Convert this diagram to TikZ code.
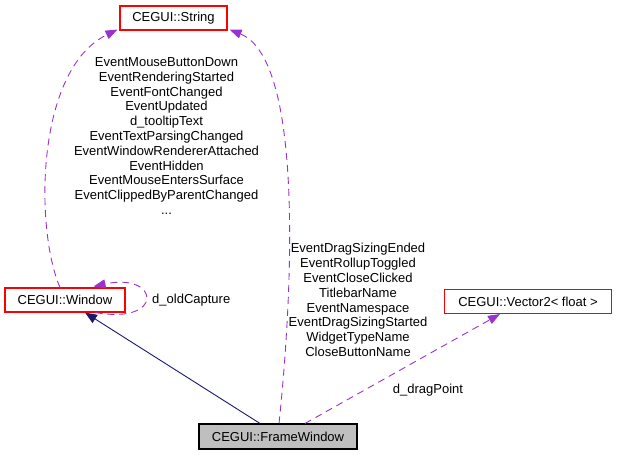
\documentclass[tikz,border=0pt]{standalone}
\usepackage{fontspec}
\setmainfont{Liberation Sans}
\usetikzlibrary{arrows.meta}
\definecolor{boxred}{HTML}{FF0000}
\definecolor{edgepurple}{HTML}{9A32CD}
\definecolor{edgenavy}{HTML}{191970}
\definecolor{boxgray}{HTML}{BFBFBF}
\begin{document}
\begin{tikzpicture}[x=1pt,y=1pt,
  every node/.style={font=\fontsize{13}{14.8}\selectfont, inner sep=0pt},
  classbox/.style={draw=boxred, line width=1.1pt, fill=white, minimum height=24pt},
  mainbox/.style={draw=black, line width=1.1pt, fill=boxgray, minimum height=25pt},
  usage/.style={draw=edgepurple, line width=0.9pt, dash pattern=on 7pt off 5pt,
     -{Triangle[length=12pt,width=9pt,fill=edgepurple]}},
  inherit/.style={draw=edgenavy, line width=0.9pt,
     -{Triangle[length=12pt,width=9.5pt,fill=edgenavy]}},
  edgelabel/.style={align=center}
]
\useasboundingbox (0,0) rectangle (617,-456);
\node[classbox, minimum width=107pt] (str) at (173.5,-18) {CEGUI::String};
\node[classbox, minimum width=120pt] (win) at (65,-300) {CEGUI::Window};
\node[classbox, minimum width=167pt] (vec) at (528,-301.5) {CEGUI::Vector2< float >};
\node[mainbox, minimum width=158pt] (fw) at (278,-436.5) {CEGUI::FrameWindow};

% inheritance
\draw[inherit] ([xshift=-18pt]fw.north) -- ([xshift=20pt]win.south);

% Window -> String
\draw[usage] ([xshift=-5pt]win.north) .. controls (35,-230) and (35,-70) .. ([xshift=-2pt,yshift=1pt]str.south west);
% FrameWindow -> String
\draw[usage] ([xshift=1pt]fw.north) .. controls (292,-300) and (305,-60) .. ([xshift=2pt,yshift=1pt]str.south east);
% self loop
\draw[usage] ([xshift=-30pt]win.south east) .. controls (165,-325) and (160,-272) .. ([xshift=-32pt,yshift=1pt]win.north east);
% FrameWindow -> Vector2
\draw[usage] ([xshift=27pt]fw.north) -- ([xshift=-28pt]vec.south);

\node[edgelabel] (lblws) at (166.5,-136) {EventMouseButtonDown\\EventRenderingStarted\\EventFontChanged\\EventUpdated\\d\_tooltipText\\EventTextParsingChanged\\EventWindowRendererAttached\\EventHidden\\EventMouseEntersSurface\\EventClippedByParentChanged\\...};
\node[edgelabel] (lblfs) at (358,-300) {EventDragSizingEnded\\EventRollupToggled\\EventCloseClicked\\TitlebarName\\EventNamespace\\EventDragSizingStarted\\WidgetTypeName\\CloseButtonName};
\node[anchor=west] (lblloop) at (152,-300) {d\_oldCapture};
\node (lbldrag) at (428,-390) {d\_dragPoint};
\end{tikzpicture}
\end{document}
